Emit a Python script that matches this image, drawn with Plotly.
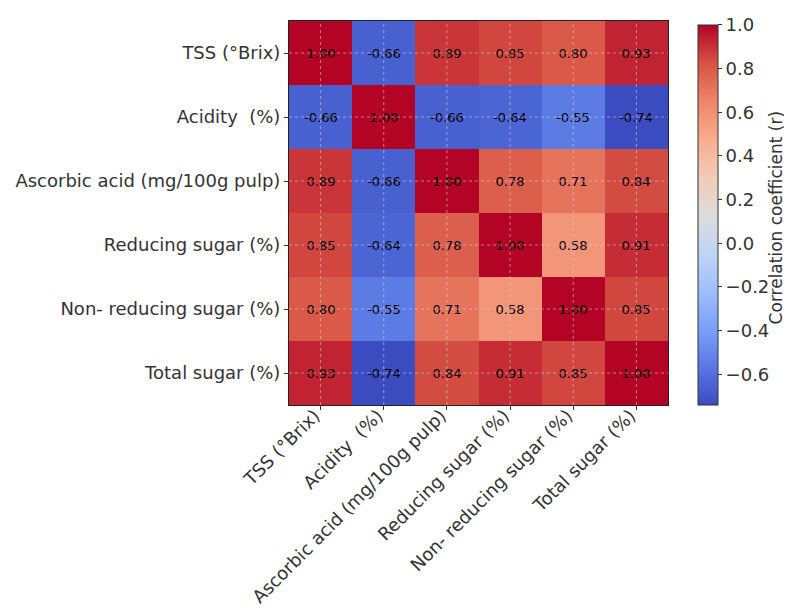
import plotly.graph_objects as go

labels = ["TSS (°Brix)", "Acidity  (%)", "Ascorbic acid (mg/100g pulp)",
          "Reducing sugar (%)", "Non- reducing sugar (%)", "Total sugar (%)"]

row_tss = [1.00, -0.66, 0.89, 0.85, 0.80, 0.93]
row_acid = [-0.66, 1.00, -0.66, -0.64, -0.55, -0.74]
row_asc = [0.89, -0.66, 1.00, 0.78, 0.71, 0.84]
row_red = [0.85, -0.64, 0.78, 1.00, 0.58, 0.91]
row_nonred = [0.80, -0.55, 0.71, 0.58, 1.00, 0.85]
row_total = [0.93, -0.74, 0.84, 0.91, 0.85, 1.00]
z = [row_tss, row_acid, row_asc, row_red, row_nonred, row_total]

cb_ticks = [-0.6, -0.4, -0.2, 0.0, 0.2, 0.4, 0.6, 0.8, 1.0]
cb_title = "Correlation coefficient (r)"

coolwarm = [
    [0.0, "#3b4cc0"], [0.1, "#5977e3"], [0.2, "#7b9ff9"], [0.3, "#9ebeff"],
    [0.4, "#c0d4f5"], [0.5, "#dddcdc"], [0.6, "#f2cbb7"], [0.7, "#f7ac8e"],
    [0.8, "#ee8468"], [0.9, "#d65244"], [1.0, "#b40426"],
]

zmin = min(min(r) for r in z)
zmax = max(max(r) for r in z)

font = "DejaVu Sans"
fig = go.Figure(go.Heatmap(
    z=z, x=labels, y=labels, colorscale=coolwarm, zmin=zmin, zmax=zmax,
    texttemplate="%{z:.2f}", textfont=dict(family=font, size=13, color="black"),
    colorbar=dict(
        x=1.079, xanchor="left", y=0.495, yanchor="middle", len=0.99, lenmode="fraction",
        thickness=20, outlinewidth=1, outlinecolor="#333", xpad=0, ypad=0,
        tickvals=cb_ticks, ticktext=[f"{v:.1f}".replace("-", "\u2212") for v in cb_ticks],
        ticks="outside", ticklen=4, tickcolor="#333",
        tickfont=dict(family=font, size=18, color="#333"),
    ),
))

shapes = []
grid_line = dict(color="rgba(215,215,215,0.55)", width=1, dash="3px,3px")
for lab in labels:
    shapes.append(dict(type="line", xref="x", yref="paper", x0=lab, x1=lab, y0=0, y1=1,
                       line=grid_line, layer="above"))
    shapes.append(dict(type="line", xref="paper", yref="y", x0=0, x1=1, y0=lab, y1=lab,
                       line=grid_line, layer="above"))

fig.update_layout(
    width=784, height=600,
    margin=dict(l=281, r=124, t=13, b=203, autoexpand=False),
    plot_bgcolor="white", paper_bgcolor="white",
    shapes=shapes,
    annotations=[dict(text=cb_title, xref="paper", yref="paper", x=1.286, y=0.487,
                      xanchor="center", yanchor="middle", textangle=-90, showarrow=False,
                      font=dict(family=font, size=17, color="#333"))],
    xaxis=dict(tickangle=-45, tickfont=dict(family=font, size=18, color="#333"), automargin=False,
               ticklabelstandoff=-12, ticklabelshift=-6,
               showline=True, linecolor="#222", linewidth=1, mirror=True,
               ticks="outside", ticklen=4, tickcolor="#333", showgrid=False),
    yaxis=dict(autorange="reversed", tickfont=dict(family=font, size=18, color="#333"), automargin=False,
               showline=True, linecolor="#222", linewidth=1, mirror=True,
               ticks="outside", ticklen=4, tickcolor="#333", showgrid=False),
)

fig.write_html("out.html")
